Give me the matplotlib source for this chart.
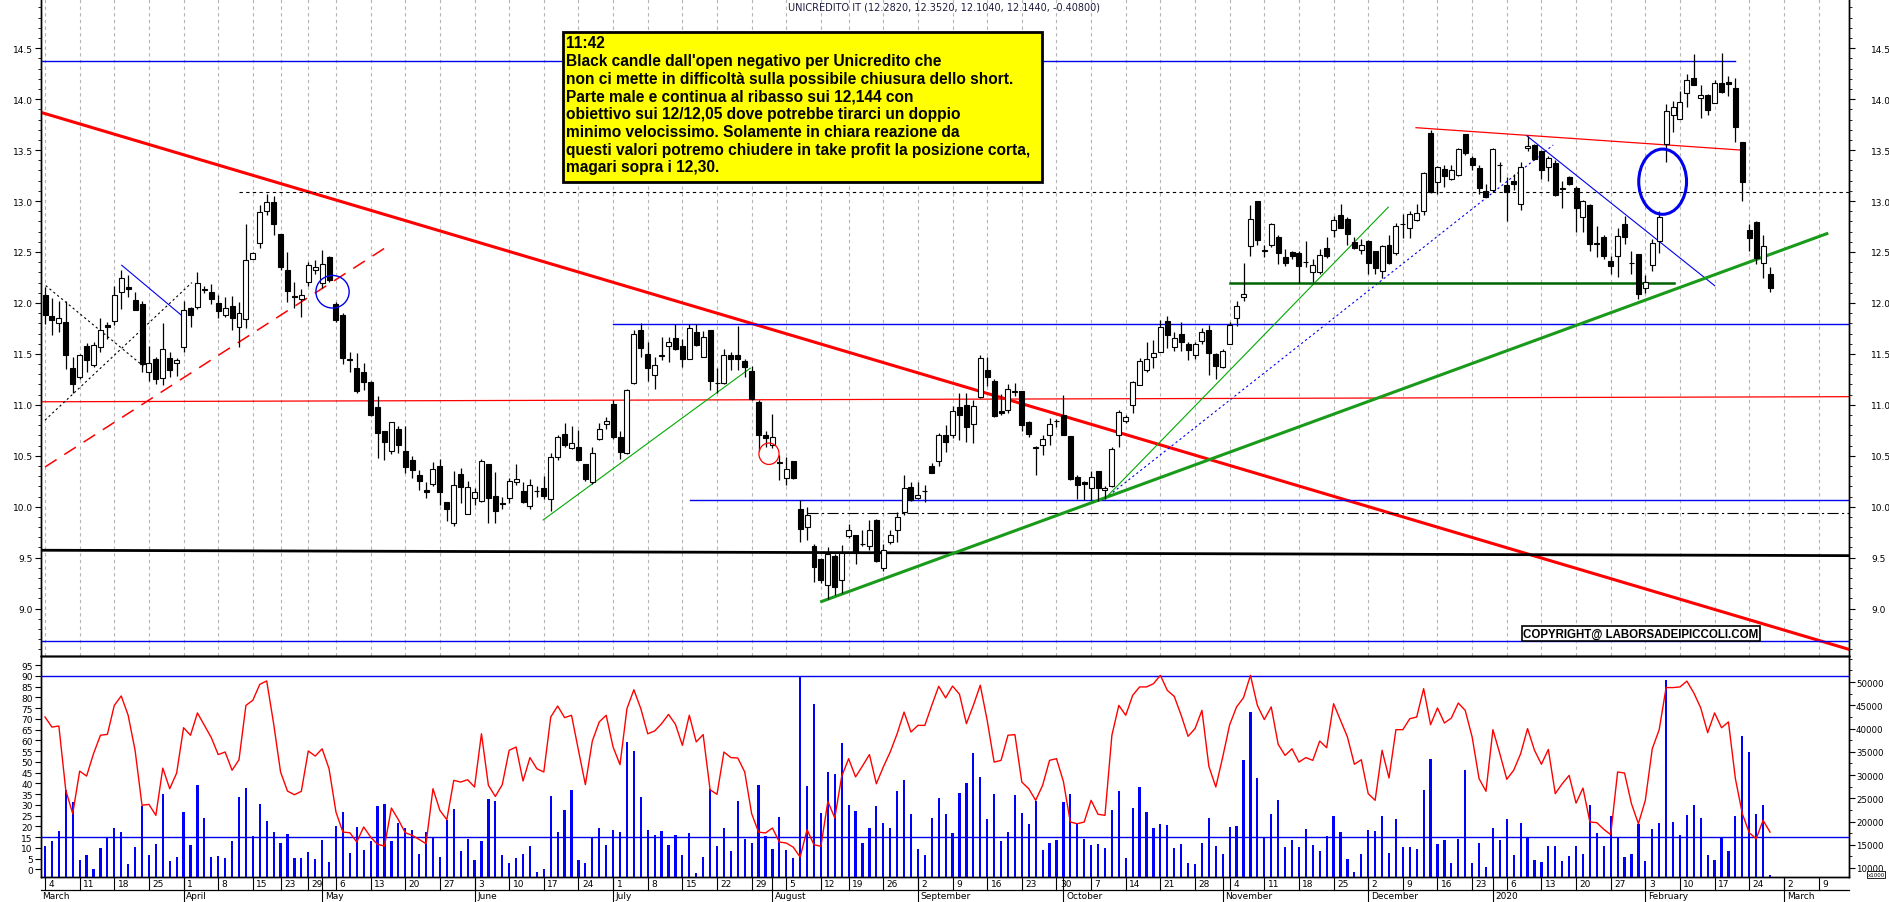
"""UniCredit daily candles Mar 2019 - Feb 2020 with trendlines, oscillator and volume."""
import numpy as np
import pandas as pd
import matplotlib
matplotlib.use("Agg")
import matplotlib.pyplot as plt
import matplotlib.patches as mpatches
import matplotlib.transforms as mtrans
from matplotlib.ticker import MultipleLocator, FixedLocator, FormatStrFormatter

plt.rcParams.update({
    "font.family": ["DejaVu Sans"],
    "axes.linewidth": 1.0,
})

# ── trading calendar (Borsa Italiana) ────────────────────────────
HOLIDAYS = ["2019-04-19", "2019-04-22", "2019-05-01", "2019-08-15", "2019-12-24",
            "2019-12-25", "2019-12-26", "2019-12-31", "2020-01-01"]
cal = pd.bdate_range("2019-03-04", "2020-03-13")
cal = cal[~cal.isin(pd.to_datetime(HOLIDAYS))]

# ── daily OHLC ───────────────────────────────────────────────────
OPEN = [
    12.08, 11.87, 11.80, 11.81, 11.36, 11.27, 11.58, 11.39, 11.57, 11.78,
    11.82, 12.11, 12.16, 12.03, 11.99, 11.32, 11.45, 11.26, 11.46, 11.41,
    11.57, 11.95, 11.96, 12.13, 12.11, 12.00, 11.88, 11.97, 11.76, 11.84,
    12.43, 12.59, 12.90, 12.99, 12.68, 12.32, 12.07, 12.04, 12.21, 12.32,
    12.20, 12.45, 11.99, 11.88, 11.45, 11.36, 11.32, 11.22, 10.98, 10.74,
    10.55, 10.76, 10.55, 10.46, 10.31, 10.16, 10.22, 10.40, 10.05, 9.84,
    10.32, 9.93, 10.09, 10.06, 10.42, 10.11, 10.04, 10.09, 10.24, 10.15,
    10.01, 10.15, 10.18, 10.08, 10.49, 10.71, 10.58, 10.59, 10.42, 10.24,
    10.66, 10.81, 11.01, 10.68, 10.53, 11.21, 11.73, 11.50, 11.29, 11.48,
    11.58, 11.66, 11.58, 11.45, 11.71, 11.47, 11.73, 11.21, 11.21, 11.49,
    11.49, 11.43, 11.33, 11.03, 10.70, 10.61, 10.43, 10.28, 10.45, 9.98,
    9.80, 9.61, 9.49, 9.23, 9.52, 9.28, 9.71, 9.72, 9.63, 9.61,
    9.87, 9.40, 9.65, 9.77, 9.95, 10.19, 10.09, 10.15, 10.40, 10.45,
    10.70, 10.70, 10.98, 11.00, 10.81, 11.08, 11.34, 11.23, 10.94, 10.95,
    11.13, 11.14, 10.83, 10.58, 10.61, 10.70, 10.84, 10.90, 10.69, 10.29,
    10.24, 10.18, 10.35, 10.16, 10.20, 10.70, 10.84, 11.00, 11.19, 11.34,
    11.47, 11.52, 11.82, 11.57, 11.70, 11.60, 11.49, 11.63, 11.73, 11.50,
    11.37, 11.60, 11.85, 12.06, 12.56, 13.00, 12.51, 12.57, 12.65, 12.45,
    12.50, 12.49, 12.40, 12.30, 12.30, 12.54, 12.72, 12.86, 12.82, 12.60,
    12.52, 12.61, 12.51, 12.31, 12.57, 12.49, 12.77, 12.74, 12.81, 12.90,
    13.67, 13.19, 13.31, 13.22, 13.26, 13.66, 13.42, 13.32, 13.10, 13.11,
    13.35, 13.16, 13.20, 12.97, 13.52, 13.55, 13.49, 13.33, 13.37, 13.12,
    13.24, 13.13, 12.84, 12.96, 12.58, 12.65, 12.41, 12.46, 12.77, 12.39,
    12.48, 12.15, 12.37, 12.61, 13.56, 13.84, 13.81, 14.06, 14.21, 14.01,
    14.04, 13.96, 14.16, 14.17, 14.11, 13.58, 12.72, 12.79, 12.39, 12.282,
]
HIGH = [
    12.16, 12.05, 12.02, 12.02, 11.47, 11.50, 11.61, 11.62, 11.85, 11.81,
    12.17, 12.32, 12.27, 12.11, 12.02, 11.58, 11.47, 11.80, 11.52, 11.46,
    12.02, 11.96, 12.30, 12.17, 12.19, 12.08, 12.06, 12.07, 12.01, 12.77,
    12.50, 12.96, 13.07, 13.05, 12.68, 12.50, 12.21, 12.14, 12.40, 12.42,
    12.52, 12.46, 12.01, 11.90, 11.52, 11.51, 11.41, 11.23, 11.09, 10.74,
    10.83, 10.79, 10.79, 10.50, 10.36, 10.24, 10.44, 10.47, 10.05, 10.35,
    10.38, 10.25, 10.18, 10.47, 10.42, 10.34, 10.10, 10.28, 10.42, 10.24,
    10.27, 10.20, 10.30, 10.53, 10.70, 10.82, 10.79, 10.75, 10.42, 10.59,
    10.82, 10.88, 11.05, 10.74, 11.16, 11.73, 11.80, 11.62, 11.47, 11.67,
    11.67, 11.79, 11.65, 11.79, 11.79, 11.72, 11.73, 11.36, 11.55, 11.52,
    11.77, 11.45, 11.38, 11.05, 10.74, 10.91, 10.51, 10.49, 10.45, 10.07,
    10.00, 9.63, 9.50, 9.60, 9.54, 9.62, 9.83, 9.72, 9.77, 9.87,
    9.88, 9.63, 9.77, 9.95, 10.31, 10.24, 10.24, 10.21, 10.43, 10.72,
    10.80, 10.99, 11.12, 11.12, 11.05, 11.49, 11.47, 11.25, 11.11, 11.20,
    11.21, 11.14, 10.84, 10.60, 10.70, 10.87, 10.86, 11.10, 10.69, 10.31,
    10.25, 10.35, 10.35, 10.20, 10.59, 10.95, 10.90, 11.23, 11.46, 11.62,
    11.64, 11.83, 11.87, 11.71, 11.81, 11.62, 11.62, 11.75, 11.78, 11.51,
    11.55, 11.81, 12.02, 12.39, 12.96, 13.00, 12.57, 12.78, 12.67, 12.53,
    12.51, 12.51, 12.61, 12.43, 12.53, 12.65, 12.85, 12.97, 12.84, 12.65,
    12.63, 12.62, 12.51, 12.57, 12.67, 12.78, 12.87, 12.90, 12.97, 13.29,
    13.70, 13.34, 13.35, 13.35, 13.52, 13.66, 13.44, 13.35, 13.17, 13.52,
    13.38, 13.24, 13.27, 13.38, 13.64, 13.56, 13.50, 13.44, 13.40, 13.20,
    13.25, 13.15, 13.01, 12.97, 12.76, 12.67, 12.46, 12.74, 12.85, 12.51,
    12.48, 12.27, 12.63, 12.90, 13.95, 13.98, 14.08, 14.25, 14.44, 14.14,
    14.05, 14.19, 14.45, 14.23, 14.21, 13.58, 12.77, 12.80, 12.67, 12.352,
]
LOW = [
    11.79, 11.69, 11.71, 11.35, 11.12, 11.25, 11.32, 11.37, 11.52, 11.65,
    11.78, 11.94, 12.06, 11.93, 11.32, 11.23, 11.20, 11.19, 11.27, 11.28,
    11.52, 11.76, 11.94, 12.10, 11.99, 11.85, 11.86, 11.73, 11.57, 11.75,
    12.43, 12.54, 12.86, 12.67, 12.32, 12.01, 11.95, 11.86, 12.17, 12.28,
    12.15, 12.21, 11.81, 11.40, 11.32, 11.12, 11.15, 10.89, 10.48, 10.46,
    10.52, 10.53, 10.33, 10.28, 10.16, 10.09, 10.20, 10.02, 9.86, 9.81,
    10.04, 9.93, 10.02, 10.05, 9.84, 9.84, 9.98, 10.04, 10.21, 10.04,
    9.98, 10.10, 10.08, 9.96, 10.46, 10.59, 10.57, 10.45, 10.25, 10.22,
    10.65, 10.76, 10.66, 10.47, 10.52, 11.20, 11.47, 11.23, 11.16, 11.44,
    11.42, 11.54, 11.37, 11.45, 11.58, 11.47, 11.15, 11.12, 11.20, 11.34,
    11.34, 11.27, 11.05, 10.55, 10.59, 10.58, 10.26, 10.21, 10.27, 9.65,
    9.67, 9.26, 9.25, 9.09, 9.13, 9.15, 9.69, 9.44, 9.61, 9.58,
    9.46, 9.37, 9.63, 9.65, 9.92, 10.06, 10.08, 10.05, 10.33, 10.40,
    10.54, 10.67, 10.65, 10.64, 10.63, 11.07, 11.18, 10.88, 10.90, 10.92,
    11.09, 10.74, 10.68, 10.31, 10.51, 10.61, 10.78, 10.70, 10.26, 10.08,
    10.07, 10.07, 10.06, 10.08, 10.19, 10.59, 10.82, 10.92, 11.19, 11.32,
    11.36, 11.52, 11.56, 11.53, 11.53, 11.44, 11.45, 11.60, 11.29, 11.25,
    11.36, 11.60, 11.77, 12.02, 12.46, 12.57, 12.45, 12.55, 12.38, 12.36,
    12.43, 12.20, 12.35, 12.21, 12.28, 12.44, 12.65, 12.74, 12.57, 12.53,
    12.48, 12.28, 12.28, 12.24, 12.38, 12.47, 12.64, 12.64, 12.80, 12.86,
    13.08, 13.07, 13.14, 13.21, 13.25, 13.45, 13.30, 13.07, 13.04, 13.09,
    13.19, 12.80, 13.11, 12.91, 13.49, 13.40, 13.22, 13.20, 13.05, 12.93,
    13.16, 12.70, 12.70, 12.51, 12.45, 12.43, 12.28, 12.25, 12.58, 12.28,
    12.04, 12.10, 12.31, 12.49, 13.38, 13.68, 13.81, 13.92, 14.14, 13.82,
    13.84, 13.96, 14.06, 14.03, 13.58, 13.00, 12.51, 12.38, 12.24, 12.104,
]
CLOSE = [
    11.88, 11.83, 11.85, 11.49, 11.20, 11.49, 11.44, 11.59, 11.73, 11.76,
    12.08, 12.24, 12.14, 11.93, 11.40, 11.41, 11.25, 11.55, 11.34, 11.44,
    11.93, 11.88, 12.20, 12.14, 12.04, 11.92, 11.95, 11.85, 11.90, 12.42,
    12.49, 12.89, 12.99, 12.77, 12.35, 12.12, 12.06, 12.08, 12.37, 12.35,
    12.38, 12.23, 11.83, 11.46, 11.44, 11.14, 11.22, 10.90, 10.72, 10.64,
    10.83, 10.61, 10.39, 10.36, 10.25, 10.14, 10.37, 10.14, 9.98, 10.21,
    10.19, 10.19, 10.14, 10.45, 10.09, 9.96, 10.03, 10.25, 10.27, 10.05,
    10.21, 10.15, 10.11, 10.49, 10.68, 10.61, 10.63, 10.46, 10.27, 10.53,
    10.76, 10.84, 10.68, 10.54, 11.15, 11.70, 11.56, 11.36, 11.39, 11.48,
    11.62, 11.55, 11.45, 11.75, 11.59, 11.67, 11.23, 11.21, 11.49, 11.45,
    11.45, 11.37, 11.06, 10.70, 10.67, 10.68, 10.43, 10.37, 10.28, 9.78,
    9.92, 9.41, 9.28, 9.54, 9.21, 9.55, 9.77, 9.56, 9.63, 9.77,
    9.47, 9.58, 9.72, 9.90, 10.18, 10.07, 10.12, 10.15, 10.33, 10.70,
    10.64, 10.94, 10.90, 10.78, 10.99, 11.46, 11.27, 10.89, 10.92, 11.16,
    11.13, 10.80, 10.71, 10.58, 10.66, 10.81, 10.84, 10.70, 10.27, 10.21,
    10.22, 10.29, 10.18, 10.18, 10.57, 10.93, 10.88, 11.22, 11.43, 11.45,
    11.51, 11.76, 11.69, 11.66, 11.62, 11.54, 11.60, 11.71, 11.51, 11.38,
    11.53, 11.78, 11.97, 12.09, 12.82, 12.62, 12.51, 12.77, 12.49, 12.39,
    12.46, 12.36, 12.40, 12.37, 12.47, 12.46, 12.81, 12.74, 12.68, 12.54,
    12.57, 12.39, 12.34, 12.56, 12.39, 12.76, 12.77, 12.87, 12.88, 13.28,
    13.09, 13.33, 13.25, 13.30, 13.51, 13.47, 13.35, 13.13, 13.04, 13.51,
    13.35, 13.09, 13.17, 13.33, 13.54, 13.41, 13.30, 13.42, 13.06, 13.12,
    13.17, 12.93, 13.00, 12.58, 12.58, 12.46, 12.36, 12.66, 12.65, 12.39,
    12.09, 12.21, 12.59, 12.84, 13.88, 13.92, 13.97, 14.19, 14.14, 14.04,
    13.89, 14.16, 14.07, 14.15, 13.73, 13.19, 12.64, 12.44, 12.56, 12.144,
]

# ── lower panel: oscillator (left scale) and volume (right scale) ─
OSC = [
    70.9, 66.2, 66.7, 36.7, 25.9, 45.7, 43.4, 53.8, 62.4, 62.8,
    76.3, 80.7, 71.7, 55.4, 29.8, 30.2, 25.1, 47.1, 37.5, 44.8,
    65.9, 62.4, 72.8, 67.0, 61.3, 53.4, 54.6, 46.1, 51.0, 76.3,
    78.7, 86.1, 87.7, 67.8, 45.3, 36.4, 34.7, 36.3, 55.1, 52.7,
    56.1, 46.8, 26.6, 17.3, 17.0, 12.7, 19.7, 15.0, 11.6, 10.8,
    28.5, 23.1, 17.0, 15.8, 13.9, 11.9, 37.5, 27.4, 23.1, 41.4,
    40.6, 41.7, 38.3, 63.1, 39.1, 33.9, 39.4, 55.4, 56.9, 41.1,
    52.0, 46.8, 45.3, 70.9, 76.0, 70.6, 71.7, 55.4, 39.4, 59.7,
    68.6, 71.7, 56.9, 48.7, 74.8, 83.6, 74.8, 63.1, 64.4, 67.8,
    72.1, 67.5, 57.7, 71.7, 59.3, 62.7, 37.0, 34.9, 54.6, 52.0,
    51.8, 45.3, 25.9, 17.3, 16.9, 19.2, 12.7, 12.2, 10.3, 5.7,
    18.4, 11.4, 10.7, 31.6, 23.9, 43.3, 51.5, 43.0, 48.1, 53.4,
    39.8, 47.6, 54.6, 63.1, 73.2, 63.9, 67.0, 67.0, 76.3, 85.2,
    79.8, 85.3, 81.5, 67.8, 76.3, 85.7, 69.3, 49.9, 50.7, 62.4,
    62.7, 40.6, 37.5, 32.1, 39.1, 50.7, 51.5, 40.9, 22.0, 21.2,
    22.0, 32.1, 25.6, 25.1, 62.4, 76.3, 71.7, 81.0, 84.9, 84.9,
    86.4, 90.3, 83.3, 80.5, 71.7, 61.9, 65.5, 74.0, 47.9, 38.3,
    52.3, 67.3, 75.6, 79.9, 90.3, 76.3, 69.7, 75.6, 58.2, 53.0,
    56.1, 49.9, 52.0, 50.7, 59.7, 56.6, 77.1, 69.3, 61.6, 48.9,
    51.0, 35.2, 32.1, 55.4, 42.5, 65.0, 65.0, 70.1, 70.9, 84.1,
    67.3, 75.1, 68.1, 70.4, 77.4, 74.0, 61.6, 42.2, 36.3, 65.0,
    53.8, 41.9, 46.1, 53.8, 65.5, 55.4, 48.9, 55.8, 35.2, 39.8,
    43.7, 30.8, 37.8, 22.0, 21.7, 18.6, 16.1, 45.3, 44.8, 30.5,
    21.2, 32.1, 56.1, 65.0, 84.6, 84.6, 84.9, 87.6, 82.1, 75.1,
    63.6, 72.8, 65.9, 68.6, 42.2, 25.9, 17.0, 14.2, 22.8, 17.3,
]
VOLUME = [
    14730, 15740, 18030, 26710, 24270, 11650, 12720, 9860, 14370, 16740,
    18680, 17740, 10930, 14450, 23340, 12720, 15160, 25850, 11510, 12440,
    22050, 14880, 27780, 20830, 12440, 12510, 12220, 15880, 25340, 27140,
    16950, 23690, 20040, 17820, 15380, 17240, 12080, 12080, 13440, 11860,
    15950, 11360, 19110, 22120, 13300, 18890, 13940, 15810, 23260, 23840,
    15810, 19750, 18530, 18100, 12940, 17820, 16740, 12440, 20250, 22690,
    13590, 16310, 11650, 15810, 24770, 24480, 12720, 11080, 12220, 13080,
    14660, 9140, 9860, 25490, 17740, 22550, 26710, 11650, 11150, 16670,
    18680, 15020, 18100, 17740, 37100, 35170, 25270, 18250, 17170, 18030,
    15020, 17170, 12870, 17530, 9000, 12370, 26920, 14730, 18680, 13660,
    24480, 16310, 15450, 27930, 16950, 14020, 21040, 13800, 12220, 51300,
    27710, 45350, 21830, 30580, 30220, 36960, 23480, 22190, 15380, 18680,
    23340, 19680, 18680, 26490, 29000, 21690, 14020, 12870, 20830, 25130,
    21690, 17600, 26200, 28350, 34740, 29570, 20610, 25990, 15810, 17740,
    25770, 21830, 19540, 24340, 13940, 15380, 16090, 24270, 25990, 19540,
    16310, 14880, 15230, 14370, 22550, 26560, 12220, 22980, 27420, 22050,
    18680, 19540, 19320, 14370, 15230, 11080, 10930, 15380, 20830, 14730,
    13080, 18820, 19110, 33300, 43550, 29360, 16670, 21690, 24700, 14520,
    16090, 14520, 18460, 15020, 13660, 16880, 21260, 17740, 12010, 9140,
    13080, 18100, 18030, 21190, 13300, 20610, 14520, 14590, 14160, 26710,
    33520, 15230, 15950, 11150, 16310, 31150, 11150, 15380, 10220, 18680,
    16090, 20610, 12870, 19750, 16670, 11650, 11290, 14730, 14730, 11430,
    12510, 14730, 13080, 23620, 17530, 14730, 21110, 16670, 12370, 13080,
    19540, 11430, 18320, 19680, 50510, 19890, 17170, 21470, 23620, 20830,
    12870, 11790, 16670, 13660, 21110, 38390, 34950, 21690, 23620, 8420,
]

# ── analyst drawings: (day0, price0, day1, price1) ───────────────
RED_THICK     = (-0.58, 13.87, 260.4, 8.60)
RED_DASHED    = (0.0, 10.39, 50.0, 12.58)
RED_FLAT      = (-0.58, 11.03, 260.4, 11.08)
RED_TOP       = (197.9, 13.72, 244.9, 13.50)
BLACK_FLAT    = (-0.58, 9.573, 260.4, 9.52)
BLACK_DASHED  = (28.0, 13.087, 260.4, 13.087)
BLACK_DASHDOT = (110.0, 9.935, 260.4, 9.935)
DOTTED_X      = [(0.1, 12.17, 14.2, 11.38), (0.0, 10.85, 21.2, 12.20)]
BLUE_FLAT     = [(-0.58, 14.37, 244.0, 14.37), (82.0, 11.797, 260.4, 11.797),
                 (93.1, 10.067, 260.4, 10.067), (-0.58, 8.686, 260.4, 8.686)]
BLUE_THIN     = [(11.07, 12.37, 20.2, 11.85), (213.9, 13.64, 241.0, 12.17)]
BLUE_DOTTED   = (153.0, 10.08, 217.7, 13.55)
GREEN_THICK   = (112.1, 9.07, 257.2, 12.68)
GREEN_THIN    = [(71.9, 9.87, 101.8, 11.36), (153.0, 10.08, 193.9, 12.94)]
GREEN_FLAT    = (171.0, 12.20, 235.1, 12.20)
# ellipses: (center day, center price, width days, height price)
BLUE_RING_S   = (41.5, 12.11, 4.8, 0.32)
BLUE_RING_L   = (233.5, 13.19, 6.9, 0.64)
RED_RING      = (104.5, 10.52, 2.9, 0.21)

TITLE = "UNICREDITO IT (12.2820, 12.3520, 12.1040, 12.1440, -0.40800)"
NOTE = ("11:42\n"
        "Black candle dall'open negativo per Unicredito che\n"
        "non ci mette in difficoltà sulla possibile chiusura dello short.\n"
        "Parte male e continua al ribasso sui 12,144 con\n"
        "obiettivo sui 12/12,05 dove potrebbe tirarci un doppio\n"
        "minimo velocissimo. Solamente in chiara reazione da\n"
        "questi valori potremo chiudere in take profit la posizione corta,\n"
        "magari sopra i 12,30.")
COPYRIGHT = "COPYRIGHT@ LABORSADEIPICCOLI.COM"

# ── layout (pixels of a 1890x903 canvas) ─────────────────────────
W, H = 1890, 903
X_L, X_R = 41, 1849
Y_MAIN_B, Y_LOW_B = 657, 878
XLIM = (-0.58, 260.4)


def fx(px):
    return px / W


def fy(py):
    return 1 - py / H


fig = plt.figure(figsize=(W / 100, H / 100), dpi=100)
ax = fig.add_axes([fx(X_L), fy(Y_MAIN_B), fx(X_R) - fx(X_L), fy(0) - fy(Y_MAIN_B)])
axl = fig.add_axes([fx(X_L), fy(Y_LOW_B), fx(X_R) - fx(X_L), fy(Y_MAIN_B) - fy(Y_LOW_B)])
axv = axl.twinx()
axl.set_zorder(axv.get_zorder() + 1)
axl.patch.set_visible(False)

n = len(CLOSE)
x = np.arange(n)
o, h, l, c = (np.array(a, float) for a in (OPEN, HIGH, LOW, CLOSE))

# weekly ticks and month separators from the calendar
week_pos, week_lab = [], []
last_key = None
for k, d in enumerate(cal):
    key = d - pd.Timedelta(days=d.weekday())
    if key != last_key:
        if not week_pos or k - week_pos[-1] >= 3:
            week_pos.append(k)
            week_lab.append(str(d.day))
        last_key = key
month_pos, month_lab = [], []
last_m = None
for k, d in enumerate(cal):
    if d.month != last_m:
        month_pos.append(k)
        month_lab.append("2020" if d.month == 1 else d.strftime("%B"))
        last_m = d.month

GRID = dict(color="#b4b4b4", linestyle=(0, (3, 3)), linewidth=0.8)

# ── main panel ───────────────────────────────────────────────────
ax.set_xlim(*XLIM)
ax.set_ylim(8.535, 14.983)
ax.set_xticks(week_pos)
ax.grid(True, axis="x", **GRID)
ax.tick_params(axis="x", length=0, labelbottom=False)
ax.yaxis.set_major_locator(MultipleLocator(0.5))
ax.yaxis.set_minor_locator(MultipleLocator(0.1))
ax.yaxis.set_major_formatter(FormatStrFormatter("%.1f"))
ax.tick_params(axis="y", which="major", length=4, width=0.8, labelsize=6.5, pad=2)
ax.tick_params(axis="y", which="minor", length=2.5, width=0.6)
axr = ax.twinx()
axr.set_ylim(ax.get_ylim())
axr.yaxis.set_major_locator(MultipleLocator(0.5))
axr.yaxis.set_minor_locator(MultipleLocator(0.1))
axr.yaxis.set_major_formatter(FormatStrFormatter("%.1f"))
axr.tick_params(axis="y", which="major", length=4, width=0.8, labelsize=6.5, pad=12)
axr.tick_params(axis="y", which="minor", length=2.5, width=0.6)
for a in (ax, axr):
    a.spines["top"].set_visible(False)


def seg(a, s, **kw):
    a.plot([s[0], s[2]], [s[1], s[3]], **kw)


seg(ax, RED_THICK, color="#ff0000", lw=2.2, zorder=4)
seg(ax, RED_DASHED, color="#ff0000", lw=1.1, dashes=(9, 6), zorder=4)
seg(ax, RED_FLAT, color="#ff0000", lw=0.9, zorder=4)
seg(ax, RED_TOP, color="#ff0000", lw=0.9, zorder=4)
seg(ax, BLACK_FLAT, color="black", lw=2.0, zorder=4)
seg(ax, BLACK_DASHED, color="black", lw=0.8, dashes=(3, 3), zorder=4)
seg(ax, BLACK_DASHDOT, color="black", lw=0.8, dashes=(10, 3, 2, 3), zorder=4)
for s in DOTTED_X:
    seg(ax, s, color="black", lw=0.8, dashes=(2, 2.5), zorder=4)
for s in BLUE_FLAT:
    seg(ax, s, color="#0000ee", lw=1.0, zorder=4)
for s in BLUE_THIN:
    seg(ax, s, color="#0000ee", lw=0.8, zorder=4)
seg(ax, BLUE_DOTTED, color="#0000ee", lw=0.8, dashes=(2, 2.5), zorder=4)
seg(ax, GREEN_THICK, color="#1a9a1a", lw=2.2, zorder=4)
for s in GREEN_THIN:
    seg(ax, s, color="#00aa00", lw=0.8, zorder=4)
seg(ax, GREEN_FLAT, color="#006400", lw=1.8, zorder=4)

for (cx, cy, ew, eh), col, lw in ((BLUE_RING_S, "#0000ee", 1.0),
                                  (BLUE_RING_L, "#0000ee", 2.2),
                                  (RED_RING, "#ff0000", 0.9)):
    ax.add_patch(mpatches.Ellipse((cx, cy), ew, eh, facecolor="none",
                                  edgecolor=col, lw=lw, zorder=6))

# candles
up = c >= o
ax.vlines(x, l, h, color="black", lw=0.9, zorder=5)
body = np.maximum(np.abs(c - o), 0.006)
ax.bar(x, body, bottom=np.minimum(o, c), width=0.72,
       color=np.where(up, "white", "black"), edgecolor="black", linewidth=0.8, zorder=5)

# title, note box, copyright
fig.text(fx(944), fy(8), TITLE, ha="center", va="center", fontsize=7, color="#1c1c3c")
fig.patches.append(mpatches.Rectangle((fx(563), fy(183)), fx(1042) - fx(563), fy(33) - fy(183),
                                      transform=fig.transFigure, facecolor="#ffff00",
                                      edgecolor="black", lw=2.0, zorder=10))
fig.text(fx(566), fy(36), NOTE, ha="left", va="top", fontsize=11.2, fontweight="bold",
         family=["Liberation Sans", "DejaVu Sans"], linespacing=1.23, zorder=11)
fig.text(fx(1641), fy(634.5), COPYRIGHT, ha="center", va="center", fontsize=8.3,
         fontweight="bold", family=["Liberation Sans", "DejaVu Sans"], zorder=11,
         bbox=dict(boxstyle="square,pad=0.15", facecolor="white", edgecolor="black", lw=1.2))

# ── lower panel ──────────────────────────────────────────────────
axl.set_xlim(*XLIM)
axl.set_ylim(-3.6, 99.3)
axv.set_ylim(8064, 55600)
axv.set_xticks(week_pos)
axv.grid(True, axis="x", **GRID)
axl.tick_params(axis="x", length=0, labelbottom=False)
axv.tick_params(axis="x", length=0, labelbottom=False)
axv.bar(x, VOLUME, width=0.32, color="#0000ff", zorder=3)
axl.plot(x, OSC, color="#ff0000", lw=1.0, zorder=5)
axl.axhline(90, color="#0000ee", lw=1.0, zorder=4)
axl.axhline(15, color="#0000ee", lw=1.0, zorder=4)
axl.yaxis.set_major_locator(FixedLocator(range(0, 100, 5)))
axl.yaxis.set_major_formatter(FormatStrFormatter("%d"))
axl.tick_params(axis="y", length=4, width=0.8, labelsize=6.5, pad=2)
axv.yaxis.set_major_locator(FixedLocator(range(10000, 50001, 5000)))
axv.yaxis.set_minor_locator(FixedLocator(range(10000, 55001, 2500)))
axv.yaxis.set_major_formatter(FormatStrFormatter("%d"))
axv.tick_params(axis="y", which="major", length=4, width=0.8, labelsize=6.2, pad=1)
axv.tick_params(axis="y", which="minor", length=2, width=0.6)
fig.text(fx(1876), fy(875.5), "x1000", ha="center", va="center", fontsize=4,
         bbox=dict(boxstyle="square,pad=0.15", facecolor="white", edgecolor="black", lw=0.6))

# date rows under the lower panel
blend = mtrans.blended_transform_factory(axl.transData, axl.transAxes)
ROW1, ROW2 = -(891 - 878) / 221, -(903 - 878) / 221
for p, lab in zip(week_pos, week_lab):
    if XLIM[0] <= p <= XLIM[1]:
        axl.plot([p, p], [0, ROW1], transform=blend, color="black", lw=0.8, clip_on=False)
        axl.text(p + 0.5, ROW1 / 2, lab, transform=blend, ha="left", va="center",
                 fontsize=6.5, clip_on=False)
axl.plot([0, 1], [ROW1, ROW1], transform=axl.transAxes, color="black", lw=0.9, clip_on=False)
for k, (p, lab) in enumerate(zip(month_pos, month_lab)):
    if k == 0:
        axl.text(XLIM[0] + 0.1, (ROW1 + ROW2) / 2, lab, transform=blend, ha="left",
                 va="center", fontsize=6.5, clip_on=False)
        continue
    axl.plot([p, p], [0, ROW2], transform=blend, color="black", lw=0.8, clip_on=False)
    axl.text(p + 0.4, (ROW1 + ROW2) / 2, lab, transform=blend, ha="left", va="center",
             fontsize=6.5, clip_on=False)

fig.savefig("out.png", dpi=100)
